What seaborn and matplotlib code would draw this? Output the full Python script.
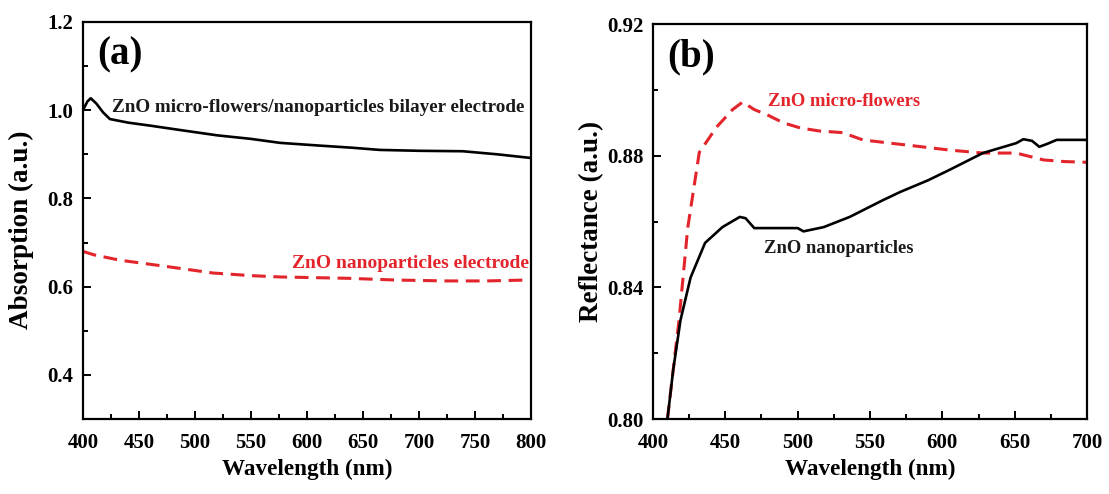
import numpy as np
import pandas as pd
import matplotlib
matplotlib.use("Agg")
import matplotlib.pyplot as plt
import seaborn as sns
from matplotlib.ticker import MultipleLocator

# ---- Panel (a): absorption ----
wl_a_bilayer = [400, 404, 407, 412, 418, 424, 440, 460, 487, 520, 550, 576, 610, 640, 665, 700, 739, 770, 799]
abs_bilayer = [1.00, 1.02, 1.027, 1.015, 0.995, 0.98, 0.972, 0.965, 0.955, 0.943, 0.935, 0.926, 0.92, 0.915, 0.91, 0.908, 0.907, 0.900, 0.892]

wl_a_np = [400, 410, 433, 471, 516, 550, 576, 636, 680, 725, 760, 796]
abs_np = [0.68, 0.672, 0.660, 0.647, 0.631, 0.625, 0.622, 0.619, 0.615, 0.613, 0.613, 0.615]

# ---- Panel (b): reflectance ----
wl_b_mf = [410, 414, 418, 424, 432, 444, 455, 462, 470, 479, 490, 502, 515, 531, 545, 564, 580, 605, 628, 651, 670, 685, 700]
ref_mf = [0.800, 0.815, 0.830, 0.858, 0.881, 0.8887, 0.894, 0.8963, 0.894, 0.8924, 0.890, 0.8884, 0.8875, 0.887, 0.8848, 0.8838, 0.8830, 0.8817, 0.8808, 0.8808, 0.8787, 0.8782, 0.878]

wl_b_np = [410, 414, 419, 426, 436, 448, 460, 464, 470, 485, 500, 504, 518, 536, 559, 571, 590, 605, 628, 651, 656, 662, 667, 672, 679, 690, 700]
ref_np = [0.800, 0.815, 0.830, 0.843, 0.8535, 0.8583, 0.8614, 0.861, 0.858, 0.858, 0.858, 0.857, 0.8583, 0.8614, 0.8665, 0.869, 0.8725, 0.8757, 0.8808, 0.8838, 0.885, 0.8845, 0.8827, 0.8835, 0.8848, 0.8848, 0.8848]

RED = "#e3242b"
FONT = ["Liberation Serif", "DejaVu Serif"]

sns.set_theme(style="white")
plt.rcParams["font.family"] = FONT
plt.rcParams["font.weight"] = "bold"
plt.rcParams["axes.labelweight"] = "bold"
plt.rcParams["text.color"] = "black"
plt.rcParams["axes.labelcolor"] = "black"

fig = plt.figure(figsize=(11.09, 4.94), dpi=100)
ax1 = fig.add_axes([0.0748, 0.1518, 0.404, 0.8037])
ax2 = fig.add_axes([0.5888, 0.1518, 0.3914, 0.7996])

dfa1 = pd.DataFrame({"wl": wl_a_bilayer, "v": abs_bilayer})
dfa2 = pd.DataFrame({"wl": wl_a_np, "v": abs_np})
sns.lineplot(data=dfa1, x="wl", y="v", ax=ax1, color="black", lw=1.9)
sns.lineplot(data=dfa2, x="wl", y="v", ax=ax1, color=RED, lw=2.2)
ax1.lines[-1].set_dashes([4.5, 2.5])

dfb1 = pd.DataFrame({"wl": wl_b_mf, "v": ref_mf})
dfb2 = pd.DataFrame({"wl": wl_b_np, "v": ref_np})
sns.lineplot(data=dfb1, x="wl", y="v", ax=ax2, color=RED, lw=2.2)
ax2.lines[-1].set_dashes([4.5, 2.5])
sns.lineplot(data=dfb2, x="wl", y="v", ax=ax2, color="black", lw=1.9)

ax1.set_xlim(400, 800)
ax1.set_ylim(0.3, 1.2)
ax1.xaxis.set_major_locator(MultipleLocator(50))
ax1.xaxis.set_minor_locator(MultipleLocator(25))
ax1.set_yticks([0.4, 0.6, 0.8, 1.0, 1.2])
ax1.set_yticklabels(["0.4", "0.6", "0.8", "1.0", "1.2"])
ax1.yaxis.set_minor_locator(MultipleLocator(0.1))

ax2.set_xlim(400, 700)
ax2.set_ylim(0.80, 0.92)
ax2.xaxis.set_major_locator(MultipleLocator(50))
ax2.xaxis.set_minor_locator(MultipleLocator(25))
ax2.set_yticks([0.80, 0.84, 0.88, 0.92])
ax2.set_yticklabels(["0.80", "0.84", "0.88", "0.92"])
ax2.yaxis.set_minor_locator(MultipleLocator(0.02))

for ax in (ax1, ax2):
    for s in ax.spines.values():
        s.set_color("black")
        s.set_linewidth(1.6)
    ax.tick_params(which="both", direction="in", color="black", width=1.4,
                   left=True, bottom=True, labelsize=15, labelcolor="black")
    ax.tick_params(which="major", length=6)
    ax.tick_params(which="minor", length=3.5)
    ax.tick_params(axis="x", which="both", pad=10)
    ax.tick_params(axis="y", which="both", pad=7)
    ax.set_xlabel("Wavelength (nm)", fontsize=16.7, fontweight="bold", va="center")
    ax.xaxis.set_label_coords(0.5, -0.128)
    for lab in ax.get_xticklabels() + ax.get_yticklabels():
        lab.set_fontweight("bold")

ax1.set_ylabel("Absorption (a.u.)", fontsize=19.5, fontweight="bold", va="center")
ax1.yaxis.set_label_coords(-0.138, 0.476)
ax2.set_ylabel("Reflectance (a.u.)", fontsize=19.5, fontweight="bold", va="center")
ax2.yaxis.set_label_coords(-0.142, 0.499)

ax1.text(413, 1.125, "(a)", fontsize=28, fontweight="bold", va="center")
ax2.text(410, 0.9100, "(b)", fontsize=28, fontweight="bold", va="center")

ax1.text(426, 1.007, "ZnO micro-flowers/nanoparticles bilayer electrode",
         fontsize=13.8, fontweight="bold", va="center", color="#1a1a1a")
ax1.text(798, 0.653, "ZnO nanoparticles electrode", fontsize=14,
         fontweight="bold", va="center", ha="right", color=RED)
ax2.text(479.5, 0.8966, "ZnO micro-flowers", fontsize=13.4,
         fontweight="bold", va="center", color=RED)
ax2.text(477, 0.8517, "ZnO nanoparticles", fontsize=13.4,
         fontweight="bold", va="center", color="#1a1a1a")

fig.savefig("out.png", dpi=100)
